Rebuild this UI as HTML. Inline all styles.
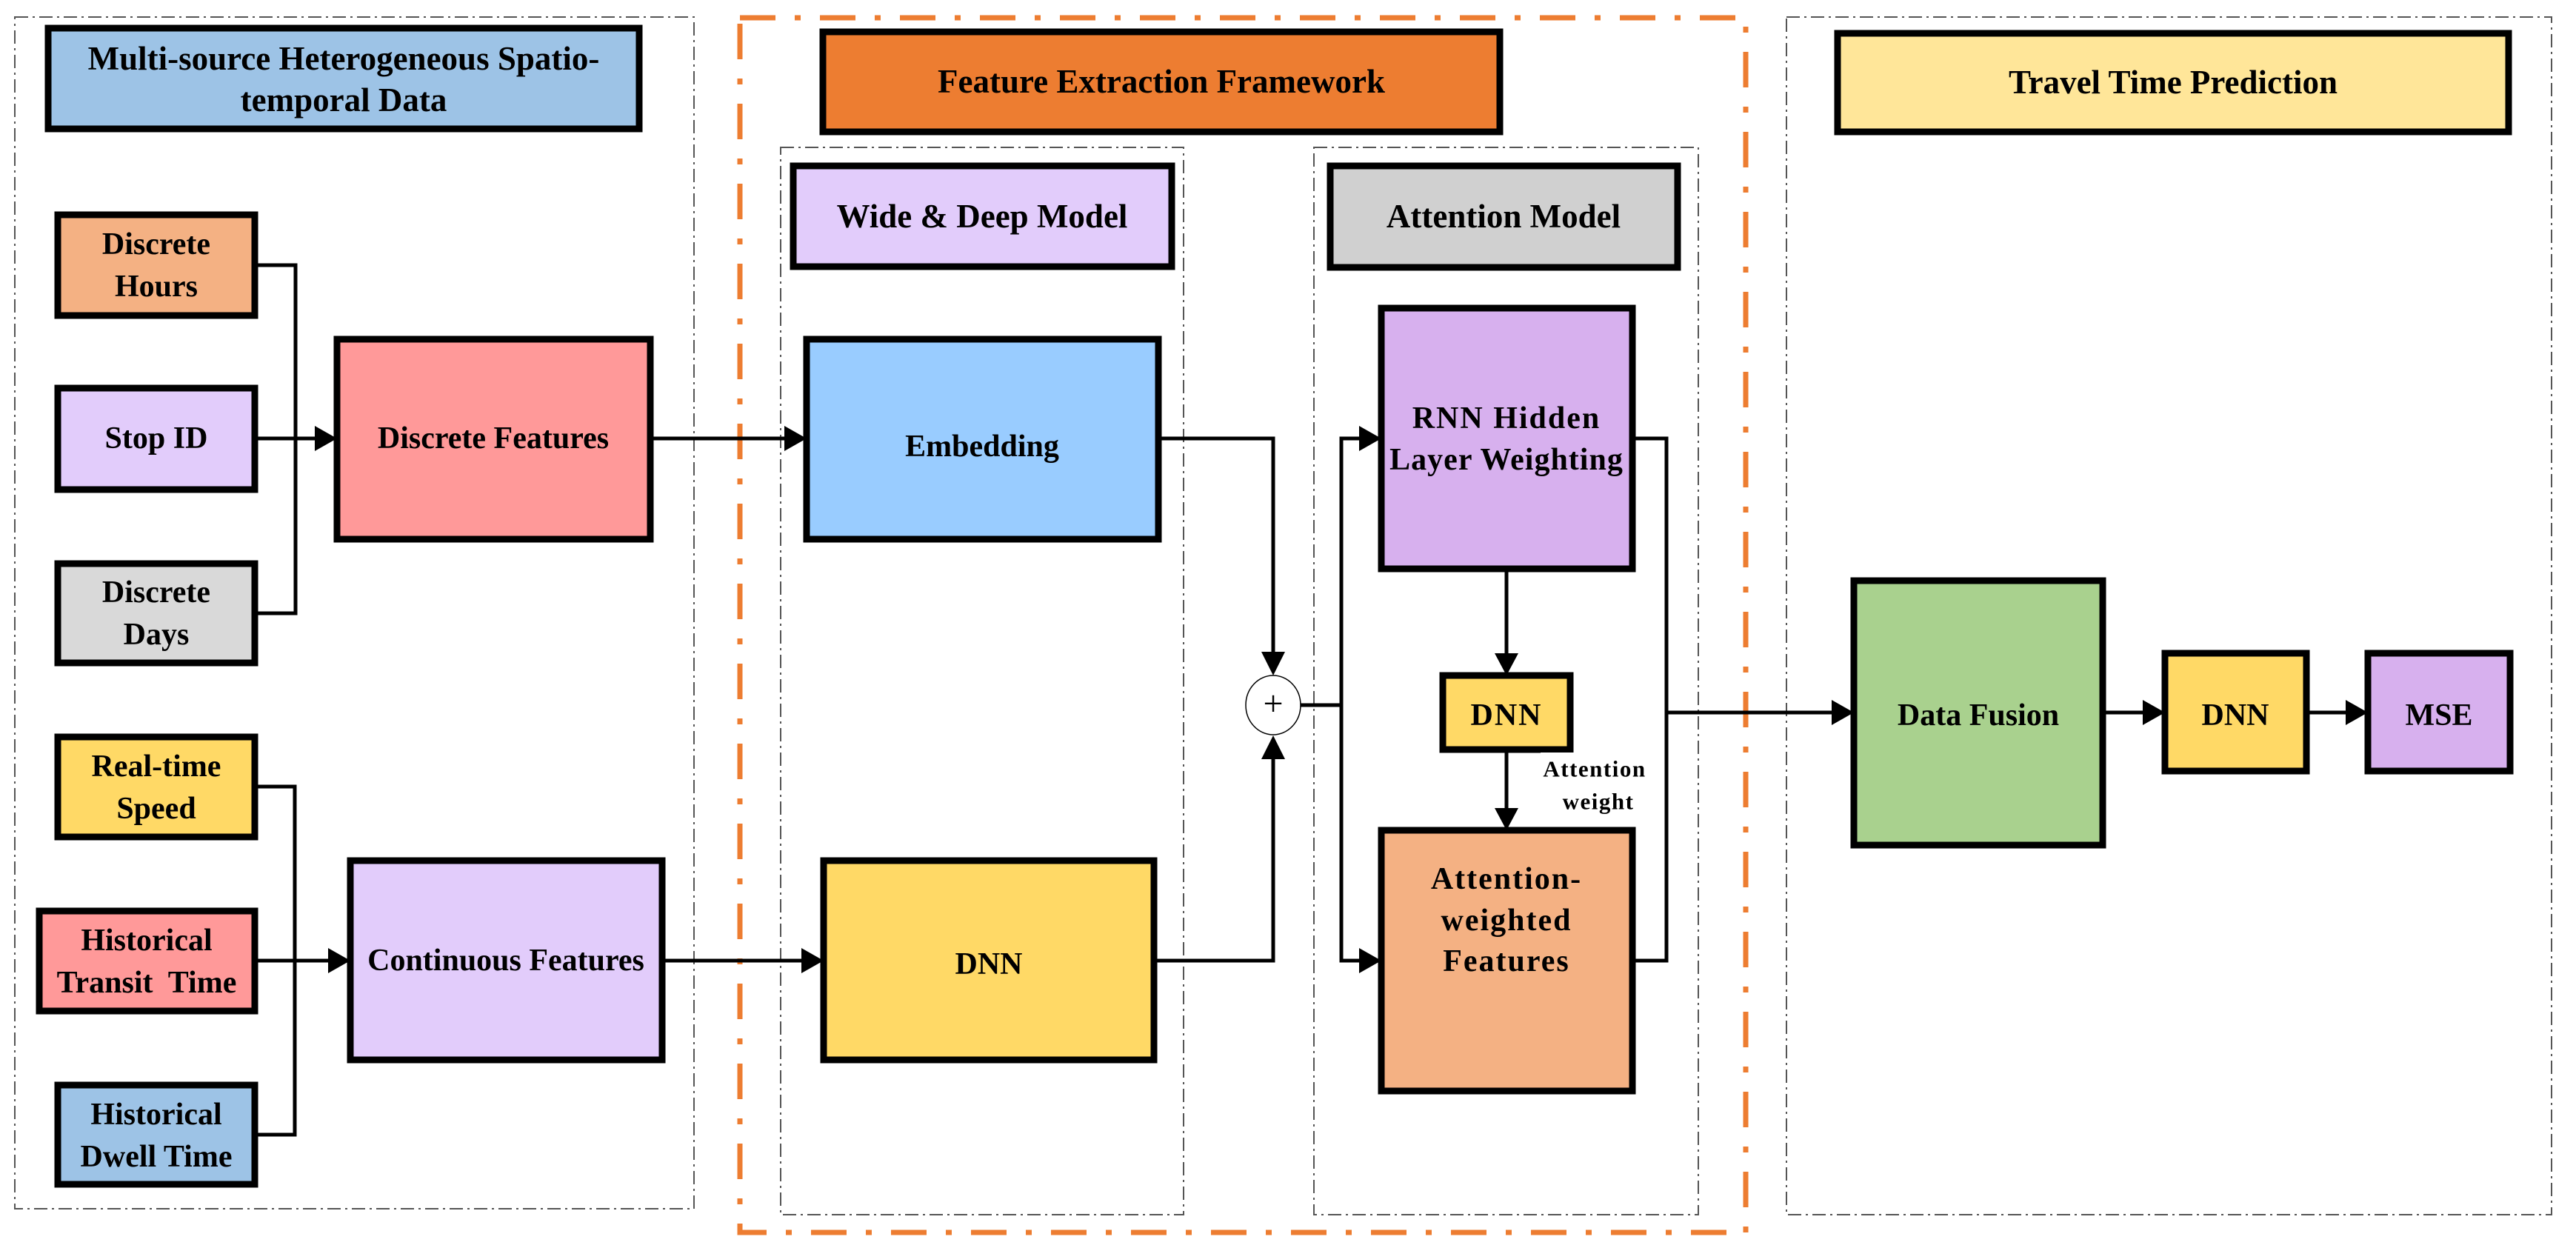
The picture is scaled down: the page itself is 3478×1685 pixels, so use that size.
<!DOCTYPE html>
<html><head><meta charset="utf-8"><style>
html,body{margin:0;padding:0;background:#fff}
svg{display:block}
text{font-family:"Liberation Serif",serif;font-weight:bold;fill:#000;text-anchor:middle;dominant-baseline:central}
</style></head><body>
<svg width="3478" height="1685" viewBox="0 0 3478 1685" xmlns="http://www.w3.org/2000/svg">
<!-- dashed frames -->
<g fill="none" stroke="#555" stroke-width="2" stroke-dasharray="18,6,3,6">
<rect x="20" y="23" width="917" height="1609"/>
<rect x="1054" y="199" width="544" height="1441"/>
<rect x="1774" y="199" width="519" height="1441"/>
<rect x="2412" y="23" width="1033" height="1617"/>
</g>
<rect x="999" y="24" width="1358" height="1640" fill="none" stroke="#ED7D31" stroke-width="7" stroke-dasharray="48,26,8,26"/>

<g stroke="#000" stroke-width="9">
<rect x="65" y="38" width="798" height="136" fill="#9DC3E6"/>
<rect x="1111" y="43" width="914" height="135" fill="#ED7D31"/>
<rect x="1071" y="224" width="511" height="136" fill="#E2CCFB"/>
<rect x="1796" y="224" width="469" height="137" fill="#D0D0D0"/>
<rect x="2481" y="45" width="906" height="133" fill="#FFE699"/>

<rect x="78" y="290" width="266" height="136" fill="#F4B183"/>
<rect x="78" y="524" width="266" height="137" fill="#E2CCFB"/>
<rect x="78" y="761" width="266" height="134" fill="#D9D9D9"/>
<rect x="455" y="458" width="423" height="270" fill="#FF9999"/>

<rect x="78" y="995" width="266" height="135" fill="#FFD966"/>
<rect x="53" y="1230" width="291" height="135" fill="#FF9999"/>
<rect x="78" y="1465" width="266" height="134" fill="#9DC3E6"/>
<rect x="473" y="1162" width="421" height="269" fill="#E2CCFB"/>

<rect x="1089" y="458" width="475" height="270" fill="#99CCFF"/>
<rect x="1112" y="1162" width="446" height="269" fill="#FFD966"/>

<rect x="1865" y="416" width="339" height="352" fill="#D7B0EE"/>
<rect x="1948" y="912" width="172" height="100" fill="#FFD966"/>
<rect x="1865" y="1121" width="339" height="352" fill="#F4B183"/>

<rect x="2503" y="784" width="336" height="357" fill="#A9D18E"/>
<rect x="2923" y="882" width="191" height="159" fill="#FFD966"/>
<rect x="3197" y="882" width="192" height="159" fill="#D7B0EE"/>
</g>

<g fill="none" stroke="#000" stroke-width="5">
<polyline points="344,358 399,358 399,828 344,828"/>
<line x1="344" y1="592" x2="430" y2="592"/>
<polyline points="344,1062 398,1062 398,1532 344,1532"/>
<line x1="344" y1="1297" x2="448" y2="1297"/>
<line x1="878" y1="592" x2="1064" y2="592"/>
<line x1="894" y1="1297" x2="1087" y2="1297"/>
<polyline points="1564,592 1719,592 1719,885"/>
<polyline points="1558,1297 1719,1297 1719,1020"/>
<line x1="1756" y1="952" x2="1811" y2="952"/>
<polyline points="1840,592 1811,592 1811,1297 1840,1297"/>
<line x1="2034" y1="768" x2="2034" y2="887"/>
<line x1="2034" y1="1012" x2="2034" y2="1096"/>
<polyline points="2204,592 2250,592 2250,1297 2204,1297"/>
<line x1="2250" y1="962" x2="2478" y2="962"/>
<line x1="2839" y1="962" x2="2898" y2="962"/>
<line x1="3114" y1="962" x2="3172" y2="962"/>
</g>
<g fill="#000">
<polygon points="425,575 455,592 425,609"/>
<polygon points="443,1280 473,1297 443,1314"/>
<polygon points="1059,575 1089,592 1059,609"/>
<polygon points="1082,1280 1112,1297 1082,1314"/>
<polygon points="1703,880 1735,880 1719,912"/>
<polygon points="1703,1025 1735,1025 1719,993"/>
<polygon points="1835,575 1865,592 1835,609"/>
<polygon points="1835,1280 1865,1297 1835,1314"/>
<polygon points="2018,882 2050,882 2034,912"/>
<polygon points="2018,1091 2050,1091 2034,1121"/>
<polygon points="2473,945 2503,962 2473,979"/>
<polygon points="2893,945 2923,962 2893,979"/>
<polygon points="3167,945 3197,962 3167,979"/>
</g>
<ellipse cx="1719" cy="952" rx="37" ry="40" fill="#fff" stroke="#000" stroke-width="1.5"/>
<text x="1719" y="950" style="font-weight:normal;font-size:48px">+</text>

<g font-size="45">
<text x="464" y="79">Multi-source Heterogeneous Spatio-</text>
<text x="464" y="135">temporal Data</text>
<text x="1568" y="110">Feature Extraction Framework</text>
<text x="1326" y="292">Wide &amp; Deep Model</text>
<text x="2030" y="292">Attention Model</text>
<text x="2934" y="111">Travel Time Prediction</text>
</g>
<g font-size="42">
<text x="211" y="330">Discrete</text>
<text x="211" y="387">Hours</text>
<text x="211" y="592">Stop ID</text>
<text x="211" y="800">Discrete</text>
<text x="211" y="857">Days</text>
<text x="666" y="592">Discrete Features</text>
<text x="211" y="1035">Real-time</text>
<text x="211" y="1092">Speed</text>
<text x="198" y="1270">Historical</text>
<text x="198" y="1327" xml:space="preserve">Transit  Time</text>
<text x="211" y="1505">Historical</text>
<text x="211" y="1562">Dwell Time</text>
<text x="683" y="1297">Continuous Features</text>
<text x="1326" y="603">Embedding</text>
<text x="1335" y="1302">DNN</text>
<text x="2034" y="565" letter-spacing="2">RNN Hidden</text>
<text x="2034" y="621" letter-spacing="1">Layer Weighting</text>
<text x="2034" y="966" letter-spacing="2">DNN</text>
<text x="2034" y="1187" letter-spacing="2">Attention-</text>
<text x="2034" y="1243" letter-spacing="2">weighted</text>
<text x="2034" y="1298" letter-spacing="2">Features</text>
<text x="2671" y="966">Data Fusion</text>
<text x="3018" y="966">DNN</text>
<text x="3293" y="966">MSE</text>
</g>
<rect x="2080" y="1016" width="144" height="90" fill="#fff"/>
<text x="2153" y="1038" font-size="31" letter-spacing="1.5">Attention</text>
<text x="2158" y="1082" font-size="31" letter-spacing="1.5">weight</text>
</svg>
</body></html>
